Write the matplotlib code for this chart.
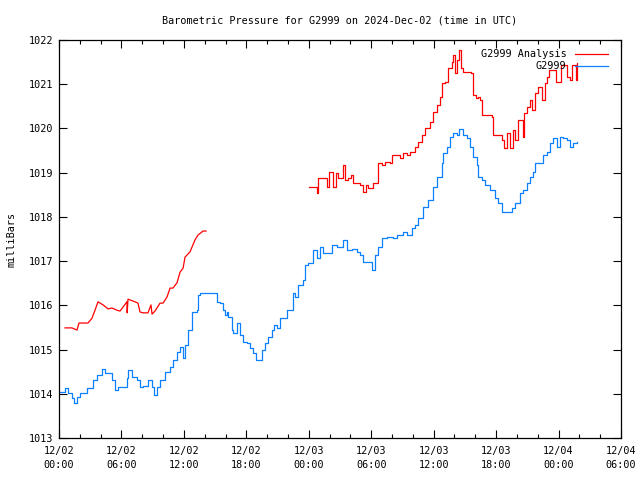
#!/usr/bin/env python3
"""Barometric pressure for G2999, analysis vs. station (gnuplot-style)."""

import numpy as np
import matplotlib
matplotlib.use('Agg')
import matplotlib.pyplot as plt

# hours since 2024-12-02 00:00 UTC
tick_hours = [0, 6, 12, 18, 24, 30, 36, 42, 48, 54]
tick_labels = ['12/02\n00:00', '12/02\n06:00', '12/02\n12:00', '12/02\n18:00',
               '12/03\n00:00', '12/03\n06:00', '12/03\n12:00', '12/03\n18:00',
               '12/04\n00:00', '12/04\n06:00']

# station observations (blue)
obs_hours = [
    0.10, 0.58, 0.86, 1.25, 1.44, 1.73, 2.02, 2.31, 2.69, 2.98, 3.27, 3.65,
    4.13, 4.42, 4.71, 5.09, 5.38, 5.67, 5.86, 6.15, 6.53, 6.63, 7.01, 7.49,
    7.78, 8.07, 8.55, 8.94, 9.13, 9.42, 9.71, 10.19, 10.67, 10.95, 11.34, 11.63,
    11.92, 12.11, 12.40, 12.78, 13.26, 13.36, 13.55, 14.70, 15.18, 15.47, 15.76, 15.95,
    16.14, 16.24, 16.62, 16.72, 17.01, 17.10, 17.39, 17.68, 18.07, 18.35, 18.64, 18.93,
    19.22, 19.51, 19.80, 20.08, 20.47, 20.66, 20.95, 21.24, 21.91, 22.48, 22.68, 22.97,
    23.45, 23.64, 23.93, 24.41, 24.79, 25.08, 25.37, 25.85, 26.23, 26.71, 27.29, 27.67,
    28.15, 28.63, 28.92, 29.21, 29.69, 30.08, 30.36, 30.65, 31.04, 31.52, 32.09, 32.48,
    33.05, 33.44, 33.92, 34.21, 34.50, 34.98, 35.46, 35.94, 36.32, 36.80, 36.90, 37.28,
    37.57, 37.86, 38.24, 38.44, 38.82, 39.21, 39.49, 39.78, 40.17, 40.26, 40.65, 40.93,
    41.41, 41.90, 42.18, 42.57, 43.05, 43.53, 43.82, 44.30, 44.59, 44.97, 45.26, 45.55,
    45.74, 46.22, 46.51, 46.89, 47.18, 47.47, 47.85, 48.14, 48.43, 48.81, 49.10, 49.39,
    49.77,
]
obs_mb = [
    1014.04, 1014.13, 1014.02, 1013.90, 1013.79, 1013.93, 1014.02, 1014.02, 1014.13, 1014.13, 1014.31, 1014.42,
    1014.56, 1014.47, 1014.47, 1014.31, 1014.09, 1014.15, 1014.15, 1014.15, 1014.36, 1014.54, 1014.38, 1014.31,
    1014.15, 1014.18, 1014.31, 1014.15, 1013.97, 1014.15, 1014.31, 1014.49, 1014.61, 1014.76, 1014.94, 1015.06,
    1014.81, 1015.10, 1015.44, 1015.85, 1015.89, 1016.23, 1016.28, 1016.28, 1016.08, 1016.05, 1015.89, 1015.78,
    1015.85, 1015.74, 1015.44, 1015.37, 1015.37, 1015.60, 1015.33, 1015.17, 1015.15, 1015.04, 1014.92, 1014.76,
    1014.76, 1014.99, 1015.15, 1015.28, 1015.44, 1015.56, 1015.49, 1015.71, 1015.89, 1016.28, 1016.19, 1016.46,
    1016.57, 1016.91, 1016.96, 1017.25, 1017.07, 1017.32, 1017.18, 1017.18, 1017.36, 1017.32, 1017.48, 1017.25,
    1017.28, 1017.21, 1017.14, 1016.98, 1016.98, 1016.80, 1017.14, 1017.32, 1017.52, 1017.55, 1017.52, 1017.59,
    1017.66, 1017.59, 1017.75, 1017.82, 1017.98, 1018.22, 1018.38, 1018.68, 1018.90, 1019.22, 1019.45, 1019.58,
    1019.81, 1019.90, 1019.85, 1019.99, 1019.85, 1019.78, 1019.58, 1019.35, 1019.17, 1018.90, 1018.83, 1018.72,
    1018.61, 1018.43, 1018.31, 1018.11, 1018.11, 1018.20, 1018.31, 1018.54, 1018.61, 1018.77, 1018.90, 1019.02,
    1019.22, 1019.22, 1019.40, 1019.47, 1019.67, 1019.78, 1019.58, 1019.81, 1019.78, 1019.74, 1019.58, 1019.67,
    1019.69,
]

# analysis, first run (red, 12/02 morning)
ana1_hours = [
    0.58, 1.25, 1.73, 1.92, 2.79, 3.17, 3.46, 3.75, 4.23, 4.71, 5.09, 5.57,
    5.86, 6.15, 6.53, 6.55, 6.63, 7.30, 7.59, 7.78, 8.07, 8.55, 8.84, 8.94,
    9.22, 9.71, 10.00, 10.38, 10.67, 10.95, 11.34, 11.63, 11.92, 12.11, 12.59, 13.07,
    13.36, 13.84, 14.13,
]
ana1_mb = [
    1015.49, 1015.49, 1015.44, 1015.60, 1015.60, 1015.71, 1015.89, 1016.08, 1016.01, 1015.92, 1015.94, 1015.89,
    1015.87, 1015.96, 1016.08, 1015.83, 1016.14, 1016.08, 1016.05, 1015.85, 1015.83, 1015.83, 1016.01, 1015.80,
    1015.87, 1016.05, 1016.05, 1016.19, 1016.39, 1016.39, 1016.51, 1016.75, 1016.84, 1017.09, 1017.21, 1017.48,
    1017.59, 1017.68, 1017.68,
]

# analysis, second run (red, from 12/03 00:00)
ana2_hours = [
    24.02, 24.60, 24.79, 24.89, 25.56, 25.75, 25.94, 26.33, 26.35, 26.62, 26.81, 27.19,
    27.29, 27.48, 27.77, 28.06, 28.25, 28.63, 28.92, 29.21, 29.50, 29.69, 30.08, 30.17,
    30.56, 30.65, 31.04, 31.33, 31.81, 32.00, 32.48, 32.77, 33.05, 33.44, 33.73, 34.21,
    34.50, 34.88, 35.17, 35.65, 35.94, 36.32, 36.61, 36.80, 37.09, 37.38, 37.76, 37.86,
    38.05, 38.24, 38.44, 38.63, 38.82, 39.30, 39.59, 39.78, 40.07, 40.26, 40.45, 40.65,
    41.13, 41.61, 41.70, 42.18, 42.57, 42.76, 43.05, 43.34, 43.63, 43.82, 44.11, 44.49,
    44.59, 44.68, 44.97, 45.26, 45.45, 45.74, 46.03, 46.41, 46.70, 46.89, 47.08, 47.47,
    47.76, 48.04, 48.24, 48.62, 48.81, 49.10, 49.29, 49.58, 49.68, 49.77,
]
ana2_mb = [
    1018.68, 1018.68, 1018.54, 1018.88, 1018.88, 1018.68, 1019.02, 1019.02, 1018.68, 1019.00, 1018.88, 1018.88,
    1019.17, 1018.83, 1018.88, 1018.95, 1018.77, 1018.77, 1018.72, 1018.56, 1018.72, 1018.65, 1018.65, 1018.77,
    1018.77, 1019.22, 1019.17, 1019.24, 1019.22, 1019.40, 1019.40, 1019.33, 1019.45, 1019.40, 1019.47, 1019.58,
    1019.69, 1019.85, 1020.01, 1020.15, 1020.37, 1020.53, 1020.71, 1021.03, 1021.05, 1021.37, 1021.50, 1021.66,
    1021.25, 1021.55, 1021.77, 1021.37, 1021.28, 1021.28, 1021.25, 1020.76, 1020.69, 1020.71, 1020.64, 1020.30,
    1020.30, 1020.26, 1019.85, 1019.85, 1019.74, 1019.56, 1019.90, 1019.56, 1019.97, 1019.74, 1020.19, 1020.19,
    1019.81, 1020.35, 1020.49, 1020.64, 1020.42, 1020.80, 1020.94, 1020.64, 1021.03, 1021.16, 1021.32, 1021.32,
    1021.05, 1021.05, 1021.44, 1021.44, 1021.16, 1021.10, 1021.44, 1021.44, 1021.10, 1021.48,
]

RED = '#ff0000'
BLUE = '#0a80ff'
FONT = 'DejaVu Sans Mono'
FS = 7.3

plt.rcParams['font.family'] = FONT

fig = plt.figure(figsize=(6.4, 4.8), dpi=100)
ax = fig.add_axes([59 / 640, 42 / 480, 562 / 640, 398 / 480])

ax.plot(ana1_hours, ana1_mb, color=RED, linewidth=0.9, label='G2999 Analysis')
ax.plot(ana2_hours, ana2_mb, color=RED, linewidth=0.9, drawstyle='steps-post')
ax.plot(obs_hours, obs_mb, color=BLUE, linewidth=0.9, drawstyle='steps-post', label='G2999')

ax.set_xlim(0, 54)
ax.set_ylim(1013, 1022)
ax.set_xticks(tick_hours)
ax.set_xticklabels(tick_labels, fontsize=FS, linespacing=1.4)
ax.set_xticks(np.arange(0, 55, 2), minor=True)
ax.set_yticks(np.arange(1013, 1023, 1))
ax.set_yticklabels([str(v) for v in range(1013, 1023)], fontsize=FS)

ax.tick_params(which='both', direction='in', top=True, right=True, width=0.8)
ax.tick_params(which='major', length=6, pad=4)
ax.tick_params(which='minor', length=3)
ax.tick_params(axis='x', pad=6)
for sp in ax.spines.values():
    sp.set_linewidth(0.9)

ax.set_ylabel('milliBars', fontsize=FS, labelpad=9)
ax.set_title('Barometric Pressure for G2999 on 2024-Dec-02 (time in UTC)',
             fontsize=FS, pad=12)

ax.legend(loc='upper right', bbox_to_anchor=(0.993, 1.0), frameon=False,
          markerfirst=False, fontsize=FS, handlelength=3.2, handletextpad=0.9,
          labelspacing=0.2, borderaxespad=0.5)

plt.savefig('out.png', dpi=100)
